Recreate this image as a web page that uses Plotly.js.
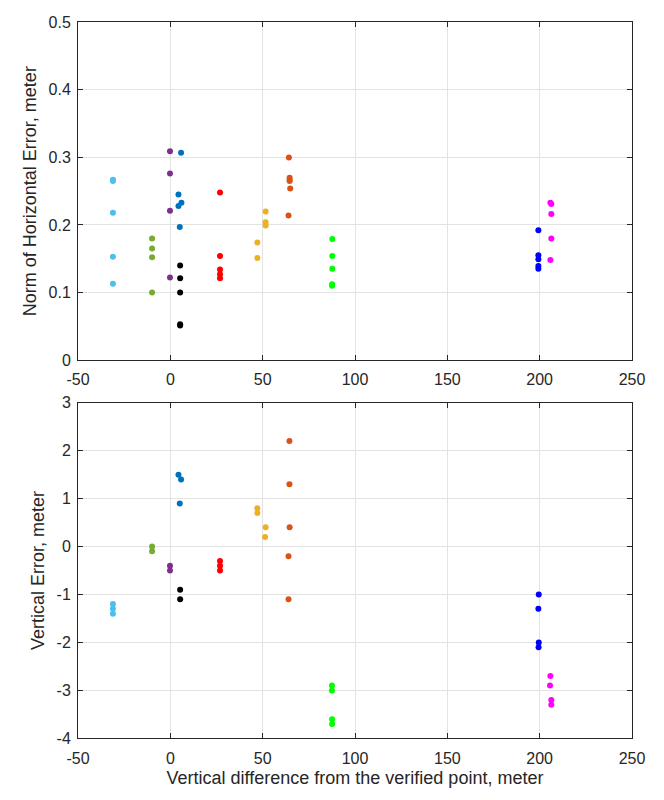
<!DOCTYPE html>
<html>
<head>
<meta charset="utf-8">
<script src="https://cdn.plot.ly/plotly-3.0.1.min.js"></script>
<style>html,body{margin:0;padding:0;background:#fff;}#chart{width:664px;height:800px;}</style>
</head>
<body>
<div id="chart"></div>
<script>
// Group colours (one group per verified point)
const groupColors = ['#4DBEEE','#77AC30','#7E2F8E','#0072BD','#000000','#FF0000','#EDB120','#D95319','#00FF00','#0000FF','#FF00FF'];

// Top panel: norm of horizontal error (x = vertical difference, y = error)
const horizX = [
  [-31.1,-31.1,-31.1,-31.1,-31.1],
  [-9.9,-9.9,-9.9,-9.9],
  [-0.2,-0.2,-0.2,-0.2],
  [5.8,4.4,6.0,4.4,5.1],
  [5.3,5.3,5.3,5.3,5.3],
  [26.9,26.9,26.9,26.9,26.9],
  [47.1,47.1,51.6,51.6,51.6],
  [64.2,64.6,64.6,64.6,64.9,64.0],
  [87.7,87.7,87.7,87.6,87.6],
  [199.3,199.3,199.3,199.3,199.3],
  [205.8,206.3,206.3,206.3,205.8]
];
const horizErr = [
  [0.267,0.265,0.218,0.153,0.113],
  [0.180,0.165,0.152,0.100],
  [0.309,0.276,0.221,0.122],
  [0.307,0.245,0.233,0.228,0.197],
  [0.140,0.121,0.100,0.053,0.051],
  [0.248,0.154,0.134,0.127,0.121],
  [0.174,0.151,0.220,0.204,0.199],
  [0.300,0.270,0.267,0.265,0.254,0.214],
  [0.179,0.154,0.135,0.112,0.110],
  [0.192,0.155,0.149,0.139,0.135],
  [0.233,0.231,0.216,0.180,0.148]
];

// Bottom panel: vertical error
const vertX = [
  [-31.1,-31.1,-31.1],
  [-9.9,-9.9],
  [-0.2,-0.2],
  [4.4,5.8,5.1],
  [5.3,5.3],
  [26.9,26.9,26.9],
  [47.1,47.1,51.6,51.3],
  [64.5,64.5,64.6,64.0,64.0],
  [87.5,87.5,87.6,87.6],
  [199.5,199.3,199.5,199.4],
  [205.8,205.6,206.3,206.3]
];
const vertErr = [
  [-1.2,-1.3,-1.4],
  [0.0,-0.1],
  [-0.4,-0.5],
  [1.5,1.4,0.9],
  [-0.9,-1.1],
  [-0.3,-0.4,-0.5],
  [0.8,0.7,0.4,0.2],
  [2.2,1.3,0.4,-0.2,-1.1],
  [-2.9,-3.0,-3.6,-3.7],
  [-1.0,-1.3,-2.0,-2.1],
  [-2.7,-2.9,-3.2,-3.3]
];

// Tick labels
const xTickVals = [-50, 0, 50, 100, 150, 200, 250];
const xTickText = ['-50', '0', '50', '100', '150', '200', '250'];
const yTopTickVals = [0, 0.1, 0.2, 0.3, 0.4, 0.5];
const yTopTickText = ['0', '0.1', '0.2', '0.3', '0.4', '0.5'];
const yBotTickVals = [-4, -3, -2, -1, 0, 1, 2, 3];
const yBotTickText = ['-4', '-3', '-2', '-1', '0', '1', '2', '3'];

const xTitle = 'Vertical difference from the verified point, meter';
const yTitleTop = 'Norm of Horizontal Error, meter';
const yTitleBottom = 'Vertical Error, meter';

const traces = [];
groupColors.forEach((c, i) => {
  traces.push({x: horizX[i], y: horizErr[i], type: 'scatter', mode: 'markers',
    marker: {color: c, size: 6}, xaxis: 'x', yaxis: 'y', showlegend: false, hoverinfo: 'skip'});
  traces.push({x: vertX[i], y: vertErr[i], type: 'scatter', mode: 'markers',
    marker: {color: c, size: 6}, xaxis: 'x2', yaxis: 'y2', showlegend: false, hoverinfo: 'skip'});
});

const axisCol = '#262626';
const font = {family: 'Liberation Sans, Arial, sans-serif', size: 16, color: axisCol};
const titleFont = {family: 'Liberation Sans, Arial, sans-serif', size: 18, color: axisCol};
const common = {
  showline: true, linecolor: axisCol, linewidth: 1, mirror: 'ticks',
  ticks: 'inside', ticklen: 5, tickcolor: axisCol, tickwidth: 1,
  showgrid: true, gridcolor: '#e3e3e3', gridwidth: 1,
  zeroline: false, tickfont: font, fixedrange: true, tickmode: 'array'
};
const xCommon = Object.assign({}, common, {domain: [0.1175, 0.9518], range: [-50, 250],
  tickvals: xTickVals, ticktext: xTickText, ticklabelstandoff: 5});

const layout = {
  width: 664, height: 800,
  margin: {l: 0, r: 0, t: 0, b: 0},
  paper_bgcolor: '#fff', plot_bgcolor: '#fff',
  showlegend: false, hovermode: false,
  xaxis: Object.assign({}, xCommon, {anchor: 'y'}),
  yaxis: Object.assign({}, common, {domain: [0.55, 0.9721], range: [0, 0.5], anchor: 'x',
    tickvals: yTopTickVals, ticktext: yTopTickText, ticklabelstandoff: 3,
    title: {text: yTitleTop, font: titleFont, standoff: 7}}),
  xaxis2: Object.assign({}, xCommon, {anchor: 'y2',
    title: {text: xTitle, font: titleFont, standoff: 5}}),
  yaxis2: Object.assign({}, common, {domain: [0.0771, 0.4966], range: [-4, 3], anchor: 'x2',
    tickvals: yBotTickVals, ticktext: yBotTickText, ticklabelstandoff: 3,
    title: {text: yTitleBottom, font: titleFont, standoff: 7}})
};

Plotly.newPlot('chart', traces, layout, {displayModeBar: false, staticPlot: true});
</script>
</body>
</html>
